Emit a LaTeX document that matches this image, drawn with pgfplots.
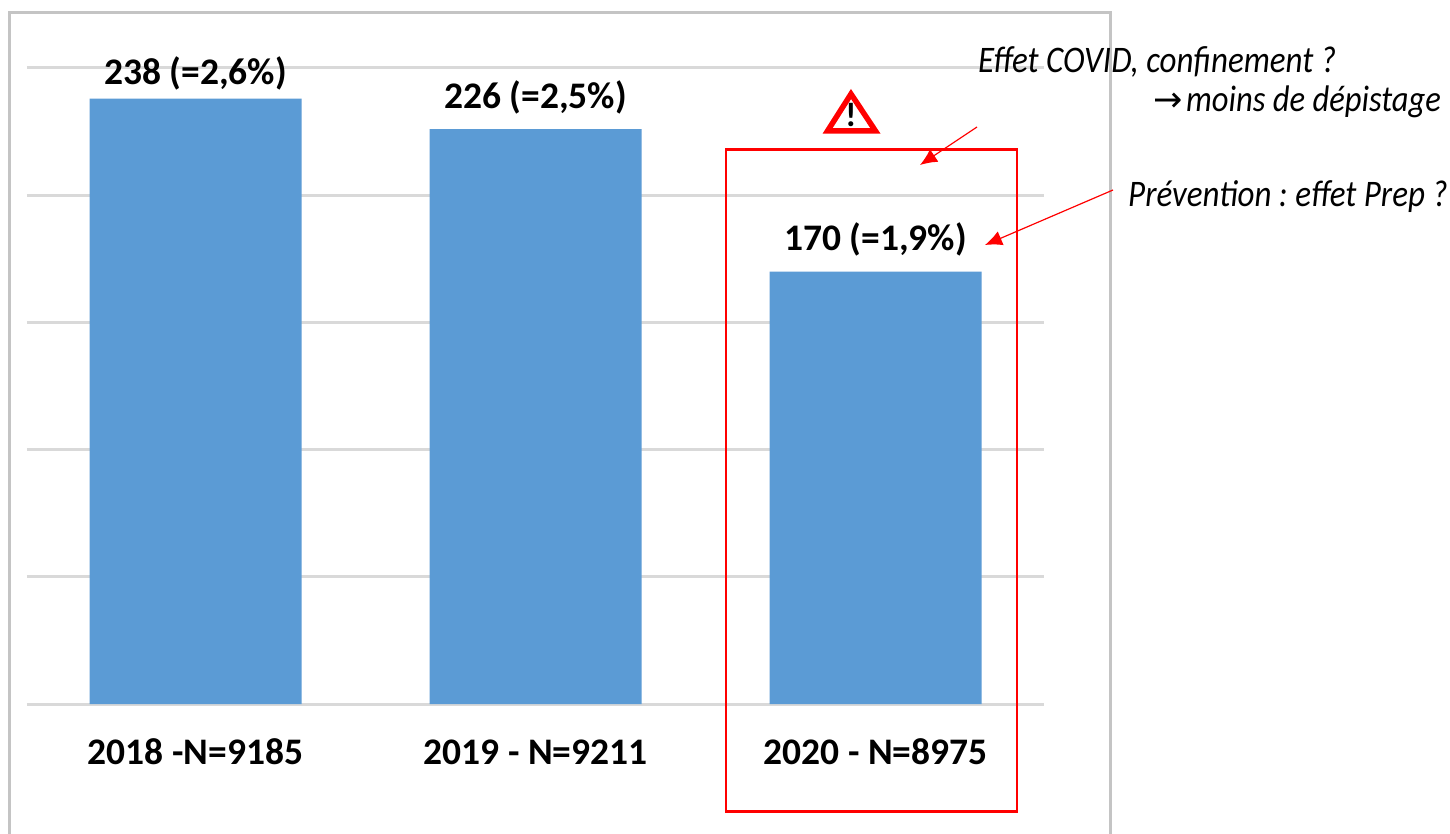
\documentclass[border=0pt]{standalone}
\usepackage{pgfplots}
\pgfplotsset{compat=1.18}
\usepackage{fontspec}
\setmainfont{Carlito}
\newfontfamily\sym{DejaVu Sans}
\newfontfamily\condit[FakeStretch=0.88]{Carlito}
\usetikzlibrary{arrows.meta}
\definecolor{barblue}{HTML}{5B9BD5}
\definecolor{gridgrey}{HTML}{D9D9D9}
\definecolor{framegrey}{HTML}{C4C4C4}
\pgfplotstableread{
x y dy label
0 238 8 {238 (=2,6\%)}
1 226 15 {226 (=2,5\%)}
2 170 15 {170 (=1,9\%)}
}\bars
\frenchspacing
\begin{document}
\begin{tikzpicture}[x=1pt,y=-1pt]
\path[use as bounding box,fill=white] (0,0) rectangle (1450,834);
\draw[framegrey,line width=2.5pt] (9.5,834) -- (9.5,12.5) -- (1110.5,12.5) -- (1110.5,834);
\begin{axis}[
  at={(27pt,-704pt)},anchor=south west,
  scale only axis,width=1017pt,height=636pt,
  xmin=-0.4956,xmax=2.4956,ymin=0,ymax=250,
  axis line style={draw=none},
  major tick style={draw=none},
  ytick={0,50,100,150,200,250},yticklabels={},
  ymajorgrids,
  grid style={gridgrey,line width=3pt},
  xtick={0,1,2},
  xticklabels={2018 -N=9185,2019 - N=9211,2020 - N=8975},
  xticklabel style={font=\fontsize{37.5}{40}\selectfont\bfseries,yshift=-30pt,text=black,text height=26pt,text depth=0pt,inner sep=0pt},
  clip=false,
  ybar,bar width=212pt,
  nodes near coords,
  point meta=explicit symbolic,
  visualization depends on={\thisrow{dy}\as\labelshift},
  every node near coord/.append style={font=\fontsize{37.5}{40}\selectfont\bfseries,text=black,inner sep=0pt,yshift=\labelshift pt},
]
\addplot[draw=none,fill=barblue] table[x=x,y=y,meta=label]{\bars};
\end{axis}
\draw[red,line width=2.6pt] (726,149.5) rectangle (1017,811.5);
\draw[red,line width=1.2pt,-{Latex[length=17pt,width=15pt]}] (977,127) -- (920,165);
\draw[red,line width=1.2pt,-{Latex[length=17pt,width=15pt]}] (1113,190) -- (985,245);
\draw[red,line width=5.5pt,line join=miter,fill=white] (851,94) -- (875.5,131) -- (827.5,131) -- cycle;
\node[font=\fontsize{34}{36}\selectfont\bfseries,inner sep=0pt] at (851,115) {!};
\node[anchor=base west,inner sep=0pt,font=\fontsize{37.5}{40}\selectfont\condit\itshape] at (978,73) {Effet COVID, confinement ?};
\node[anchor=base west,inner sep=0pt,font=\fontsize{37}{40}\selectfont\condit\itshape] at (1186,112) {moins de dépistage};
\node[anchor=base west,inner sep=0pt,font=\fontsize{35}{36}\selectfont\sym] at (1153,112) {→};
\node[anchor=base west,inner sep=0pt,font=\fontsize{37.5}{40}\selectfont\condit\itshape] at (1128,207) {Prévention : effet Prep ?};
\end{tikzpicture}
\end{document}
